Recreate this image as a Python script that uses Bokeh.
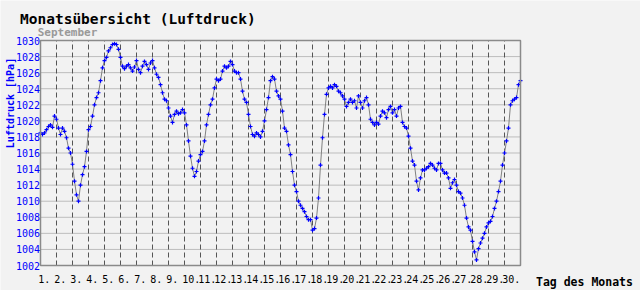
import math
from bokeh.plotting import figure
from bokeh.models import Range1d
from bokeh.core.properties import value
from bokeh.embed import file_html
from bokeh.resources import INLINE

# ---- data: air pressure (hPa), one reading every 3 hours, September ----
step_hours = 3
pressure_days_01_05 = [
    1018.5, 1018.3, 1018.5, 1018.9, 1019.3, 1019.5, 1019.2, 1020.6, 1020.2, 1019.1,
    1018.3, 1019.1, 1018.7, 1017.9, 1016.6, 1016.0, 1014.6, 1012.5, 1010.8, 1010.0,
    1012.0, 1013.3, 1014.3, 1016.2, 1018.9, 1019.3, 1020.6, 1022.0, 1022.9, 1023.5,
    1025.0, 1026.6, 1027.5, 1027.9, 1028.7, 1029.1, 1029.5, 1029.6, 1029.5, 1028.9]
pressure_days_06_10 = [
    1027.9, 1026.8, 1026.5, 1026.8, 1027.0, 1026.6, 1026.2, 1026.7, 1027.5, 1026.4,
    1026.0, 1026.8, 1027.4, 1027.0, 1026.4, 1027.2, 1027.5, 1026.6, 1025.8, 1025.4,
    1024.5, 1023.5, 1022.7, 1022.5, 1021.6, 1020.6, 1019.8, 1020.8, 1021.2, 1020.9,
    1021.0, 1021.4, 1021.0, 1019.5, 1017.5, 1015.6, 1014.1, 1013.1, 1013.7, 1015.0]
pressure_days_11_15 = [
    1015.8, 1016.2, 1017.5, 1019.5, 1020.8, 1022.0, 1022.7, 1024.1, 1025.2, 1025.0,
    1025.2, 1026.2, 1026.8, 1026.6, 1026.8, 1027.4, 1027.0, 1026.2, 1026.0, 1026.0,
    1025.2, 1023.7, 1022.7, 1022.3, 1020.8, 1019.3, 1018.3, 1018.1, 1018.5, 1018.3,
    1018.0, 1018.7, 1020.0, 1021.4, 1022.9, 1025.0, 1025.5, 1025.2, 1023.7, 1023.1]
pressure_days_16_20 = [
    1022.7, 1021.2, 1019.1, 1018.7, 1017.0, 1015.8, 1013.7, 1012.0, 1011.2, 1010.0,
    1009.5, 1009.1, 1008.7, 1008.1, 1007.7, 1007.7, 1006.4, 1006.6, 1007.9, 1010.4,
    1014.5, 1017.9, 1020.8, 1023.3, 1024.1, 1024.3, 1024.1, 1024.5, 1024.3, 1023.7,
    1023.5, 1023.1, 1022.7, 1021.8, 1022.3, 1022.7, 1022.3, 1022.5, 1021.6, 1023.1]
pressure_days_21_25 = [
    1022.3, 1021.6, 1022.5, 1022.9, 1022.0, 1020.2, 1019.8, 1019.5, 1019.8, 1019.6,
    1020.6, 1021.2, 1021.0, 1020.4, 1021.4, 1021.8, 1021.0, 1021.4, 1020.6, 1021.6,
    1021.8, 1019.8, 1019.3, 1019.1, 1018.1, 1016.6, 1015.0, 1014.5, 1012.5, 1011.4,
    1012.9, 1013.9, 1013.9, 1014.1, 1014.3, 1014.7, 1014.5, 1014.1, 1013.9, 1014.7]
pressure_days_26_30 = [
    1014.7, 1013.9, 1013.5, 1013.5, 1012.9, 1011.6, 1012.3, 1012.7, 1012.0, 1011.2,
    1011.0, 1010.4, 1009.5, 1007.9, 1006.8, 1006.4, 1005.0, 1003.7, 1002.7, 1004.1,
    1004.8, 1005.4, 1006.0, 1006.8, 1007.3, 1007.5, 1008.1, 1009.1, 1010.0, 1011.2,
    1012.5, 1014.5, 1016.0, 1017.5, 1019.1, 1022.0, 1022.5, 1022.7, 1022.9, 1024.5,
    1025.0]

day_labels = [f"{d}." for d in range(1, 31)]
y_ticks = list(range(1002, 1031, 2))
title_text = "Monatsübersicht (Luftdruck)"
subtitle_text = "September"
y_title = "Luftdruck [hPa]"
x_title = "Tag des Monats"

pressure = (pressure_days_01_05 + pressure_days_06_10 + pressure_days_11_15 +
            pressure_days_16_20 + pressure_days_21_25 + pressure_days_26_30)
days = [i * step_hours / 24.0 for i in range(len(pressure))]
n_days = len(day_labels)
y_min, y_max = y_ticks[0], y_ticks[-1]

# ---- layout: plot area 40..520 px horizontally, 40..265 px vertically ----
W, H = 640, 290
FL, FR, FT, FB = 40, 520, 40, 265
PX_X = (FR - FL) / n_days
PX_Y = (FB - FT) / (y_max - y_min)

def dx(px):
    return (px - FL) / PX_X

def dy(py):
    return y_max - (py - FT) / PX_Y

MONO = value("DejaVu Sans Mono")
BG = "#f2f2f2"

p = figure(width=W, height=H, output_backend="svg", toolbar_location=None,
           x_range=Range1d(dx(0), dx(W)), y_range=Range1d(dy(H), dy(0)),
           x_axis_location=None, y_axis_location=None,
           min_border=0, min_border_left=0, min_border_right=0,
           min_border_top=0, min_border_bottom=0)
p.background_fill_color = BG
p.border_fill_color = BG
p.outline_line_color = None
p.xgrid.visible = False
p.ygrid.visible = False

# grid lines
inner_y = y_ticks[1:-1]
p.segment(x0=[0] * len(inner_y), x1=[n_days] * len(inner_y), y0=inner_y, y1=inner_y,
          line_color="#bdbdbd", line_width=1)
day_bounds = list(range(1, n_days))
p.segment(x0=day_bounds, x1=day_bounds, y0=[y_min] * len(day_bounds),
          y1=[y_max] * len(day_bounds), line_color="#555555", line_width=1,
          line_dash="5 3")

# data
p.line(days, pressure, line_color="#808080", line_width=1)
p.scatter(days, pressure, marker="cross", size=4, line_color="#0000ff", line_width=1.2)

# plot frame
p.quad(left=[0], right=[n_days], bottom=[y_min], top=[y_max], fill_color=None,
       line_color="#8a8a8a", line_width=1.5)

# tick labels
p.text(x=[dx(39.5)] * len(y_ticks), y=y_ticks, text=[str(v) for v in y_ticks],
       text_font=MONO, text_font_size=value("10px"), text_color="#0000ff",
       text_align="right", text_baseline="middle")
p.text(x=[i - 2.3 / PX_X for i in range(n_days)], y=[dy(278.3)] * n_days, text=day_labels,
       text_font=MONO, text_font_size=value("10px"), text_color="#000000",
       text_align="left", text_baseline="middle")

# titles
p.text(x=[dx(19.5)], y=[dy(18.3)], text=[title_text], text_font=MONO,
       text_font_size=value("14.5px"), text_font_style="bold", text_color="#000000",
       text_align="left", text_baseline="middle")
p.text(x=[dx(37.2)], y=[dy(31.7)], text=[subtitle_text], text_font=MONO,
       text_font_size=value("11px"), text_font_style="bold", text_color="#999999",
       text_align="left", text_baseline="middle")
p.text(x=[dx(10)], y=[dy(102.5)], text=[y_title], text_font=MONO,
       text_font_size=value("10px"), text_font_style="bold", text_color="#0000ff",
       angle=math.pi / 2, text_align="center", text_baseline="middle")
p.text(x=[dx(535.5)], y=[dy(281.2)], text=[x_title], text_font=MONO,
       text_font_size=value("11.5px"), text_font_style="bold", text_color="#000000",
       text_align="left", text_baseline="middle")

open("out.html", "w").write(file_html(p, INLINE))
